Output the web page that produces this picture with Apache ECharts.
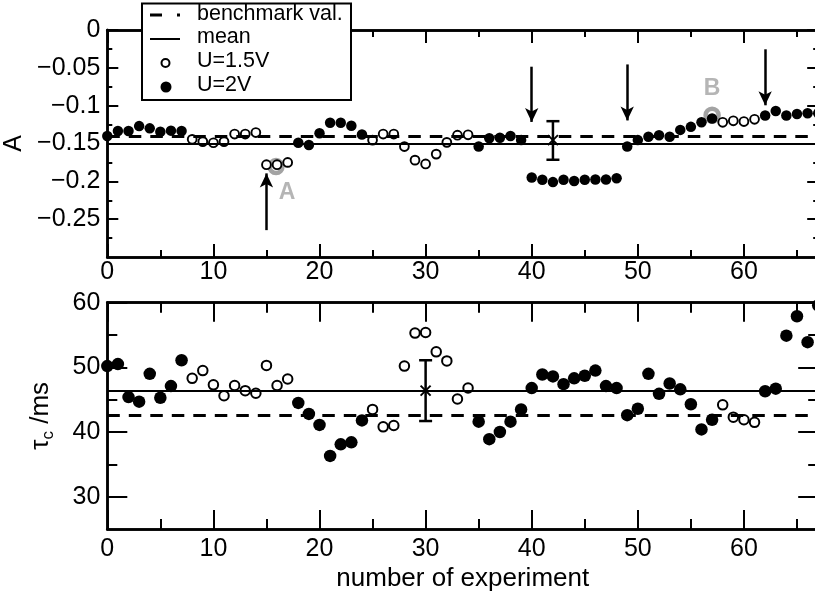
<!DOCTYPE html>
<html>
<head>
<meta charset="utf-8">
<script src="https://cdn.jsdelivr.net/npm/echarts@6/dist/echarts.min.js"></script>
<style>
  html, body { margin: 0; padding: 0; background: #fff; }
  #chart { width: 815px; height: 597px; }
</style>
</head>
<body>
<div id="chart"></div>
<script>
// ---- data ----------------------------------------------------------------
const experiments = [0,1,2,3,4,5,6,7,8,9,10,11,12,13,14,15,16,17,18,19,20,21,22,23,24,25,26,27,28,29,30,31,32,33,34,35,36,37,38,39,40,41,42,43,44,45,46,47,48,49,50,51,52,53,54,55,56,57,58,59,60,61,62,63,64,65,66,67];

// supply voltage of each experiment (V)
const voltage = [2,2,2,2,2,2,2,2,1.5,1.5,1.5,1.5,1.5,1.5,1.5,1.5,1.5,1.5,2,2,2,2,2,2,2,1.5,1.5,1.5,1.5,1.5,1.5,1.5,1.5,1.5,1.5,2,2,2,2,2,2,2,2,2,2,2,2,2,2,2,2,2,2,2,2,2,2,2,1.5,1.5,1.5,1.5,2,2,2,2,2,2];

// amplitude A per experiment
const amplitudeA = [-0.140,-0.1335,-0.1335,-0.127,-0.130,-0.1345,-0.133,-0.1335,-0.1445,-0.1475,-0.149,-0.1475,-0.1375,-0.1375,-0.1355,-0.178,-0.178,-0.175,-0.149,-0.152,-0.1365,-0.1225,-0.1225,-0.1265,-0.138,-0.1455,-0.1375,-0.1375,-0.154,-0.172,-0.177,-0.164,-0.1485,-0.139,-0.1385,-0.154,-0.143,-0.1425,-0.140,-0.1455,-0.195,-0.198,-0.201,-0.198,-0.1995,-0.198,-0.1975,-0.1975,-0.196,-0.154,-0.1455,-0.141,-0.139,-0.141,-0.132,-0.128,-0.122,-0.117,-0.122,-0.120,-0.121,-0.118,-0.113,-0.107,-0.113,-0.111,-0.110,-0.110];

// time constant tau_c per experiment (ms)
const tauC = [50.2,50.5,45.4,44.7,49.0,45.3,47.1,51.1,48.3,49.5,47.3,45.6,47.2,46.4,46.0,50.3,47.2,48.2,44.5,42.8,41.1,36.3,38.1,38.4,41.8,43.5,40.8,41.0,50.2,55.3,55.4,52.4,51.0,45.1,46.8,41.6,38.9,40.0,41.6,43.5,46.8,48.9,48.6,47.4,48.3,48.7,49.5,47.1,46.8,42.6,43.6,49.0,45.9,47.5,46.6,44.3,40.4,41.9,44.2,42.3,41.9,41.5,46.3,46.7,54.9,57.9,53.9,59.6];

// reference levels
const meanA = -0.1455, benchmarkA = -0.1355;
const meanTau = 46.4, benchmarkTau = 42.6;

// spread of the mean: [experiment, centre, low, high]
const spreadA = [[42, -0.1455, -0.1715, -0.1205]];
const spreadTau = [[30, 46.4, 41.7, 51.1]];

// highlighted runs and their tags
const highlightRuns = [[15.9, -0.1805], [57, -0.1125]];
const highlightTags = [{ name: 'A', value: [16.95, -0.2155] }, { name: 'B', value: [57, -0.078] }];

// arrows: [experiment, tail, tip]
const arrowsA = [[15, -0.2645, -0.1895], [40, -0.0485, -0.1215], [49, -0.0455, -0.1195], [62, -0.0255, -0.0995]];

// axis ticks
const xMajorTicks = [0, 10, 20, 30, 40, 50, 60];
const xMinorTicks = [5, 15, 25, 35, 45, 55, 65];
const aMajorTicks = [0, -0.05, -0.1, -0.15, -0.2, -0.25];
const aMinorTicks = [-0.025, -0.075, -0.125, -0.175, -0.225, -0.275];
const tauMajorTicks = [30, 40, 50, 60];
const tauMinorTicks = [35, 45, 55];

const legendLabels = ['benchmark val.', 'mean', 'U=1.5V', 'U=2V'];

// ---- split by voltage ----------------------------------------------------
const filledA = [], openA = [], filledTau = [], openTau = [];
experiments.forEach((n, i) => {
  if (voltage[i] === 2) { filledA.push([n, amplitudeA[i]]); filledTau.push([n, tauC[i]]); }
  else { openA.push([n, amplitudeA[i]]); openTau.push([n, tauC[i]]); }
});

// ---- helpers --------------------------------------------------------------
const FONT = '"Liberation Sans", Arial, Helvetica, sans-serif';
const X_MIN = 0, X_MAX = 67;
const fmtTick = v => (v < 0 ? '\u2212' + String(-v) : String(v));

function axisCommon(ticks, len, labels, labelMargin) {
  return {
    axisLine: { show: true, onZero: false, lineStyle: { color: '#000', width: 2.5 } },
    axisTick: { show: true, inside: true, length: len, customValues: ticks, lineStyle: { color: '#000', width: 2 } },
    axisLabel: labels ? {
      show: true, customValues: ticks, margin: labelMargin, color: '#000',
      fontSize: 25, fontFamily: FONT, formatter: fmtTick
    } : { show: false },
    splitLine: { show: false },
    minorTick: { show: false },
    minorSplitLine: { show: false }
  };
}

function xAxisDef(grid, pos, ticks, len, labels, margin, extra) {
  return Object.assign({ type: 'value', gridIndex: grid, position: pos, min: X_MIN, max: X_MAX },
    axisCommon(ticks, len, labels, margin), extra || {});
}
function yAxisDef(grid, pos, min, max, ticks, len, labels, margin, extra) {
  return Object.assign({ type: 'value', gridIndex: grid, position: pos, min: min, max: max },
    axisCommon(ticks, len, labels, margin), extra || {});
}

function errorBar(capHalf, crossHalf) {
  return function (params, api) {
    const x = api.value(0);
    const c = api.coord([x, api.value(1)]);
    const lo = api.coord([x, api.value(2)]);
    const hi = api.coord([x, api.value(3)]);
    const st = { stroke: '#000', lineWidth: 2.5, fill: null };
    return {
      type: 'group',
      children: [
        { type: 'line', shape: { x1: lo[0], y1: lo[1], x2: hi[0], y2: hi[1] }, style: st },
        { type: 'line', shape: { x1: lo[0] - capHalf, y1: lo[1], x2: lo[0] + capHalf, y2: lo[1] }, style: st },
        { type: 'line', shape: { x1: hi[0] - capHalf, y1: hi[1], x2: hi[0] + capHalf, y2: hi[1] }, style: st },
        { type: 'line', shape: { x1: c[0] - crossHalf, y1: c[1] - crossHalf, x2: c[0] + crossHalf, y2: c[1] + crossHalf }, style: { stroke: '#000', lineWidth: 2 } },
        { type: 'line', shape: { x1: c[0] - crossHalf, y1: c[1] + crossHalf, x2: c[0] + crossHalf, y2: c[1] - crossHalf }, style: { stroke: '#000', lineWidth: 2 } }
      ]
    };
  };
}

function refLines(mean, bench) {
  return {
    silent: true, symbol: 'none', animation: false,
    label: { show: false },
    data: [
      { yAxis: mean, lineStyle: { color: '#000', width: 2, type: 'solid', opacity: 1 } },
      { yAxis: bench, lineStyle: { color: '#000', width: 3, type: [12.5, 9], opacity: 1 } }
    ]
  };
}

// ---- chart ----------------------------------------------------------------
const chart = echarts.init(document.getElementById('chart'), null, { renderer: 'canvas' });

const legendStyle = { fontSize: 21.5, fontFamily: FONT, fill: '#000', verticalAlign: 'middle' };

const option = {
  animation: false,
  backgroundColor: '#fff',
  textStyle: { fontFamily: FONT },
  grid: [
    { left: 107.3, top: 30, width: 710.9, height: 227, containLabel: false, outerBoundsMode: 'none' },
    { left: 107.3, top: 302.7, width: 710.9, height: 226.3, containLabel: false, outerBoundsMode: 'none' }
  ],
  xAxis: [
    xAxisDef(0, 'bottom', xMajorTicks, 13, true, 3),
    xAxisDef(0, 'bottom', xMinorTicks, 7, false),
    xAxisDef(0, 'top', xMajorTicks, 13, false),
    xAxisDef(0, 'top', xMinorTicks, 7, false),
    xAxisDef(1, 'bottom', xMajorTicks, 19, true, 8, {
      name: 'number of experiment', nameLocation: 'middle', nameGap: 37,
      nameTextStyle: { fontSize: 26, fontFamily: FONT, color: '#000' }
    }),
    xAxisDef(1, 'bottom', xMinorTicks, 10, false),
    xAxisDef(1, 'top', xMajorTicks, 19, false),
    xAxisDef(1, 'top', xMinorTicks, 10, false)
  ],
  yAxis: [
    yAxisDef(0, 'left', -0.3, 0, aMajorTicks, 11, true, 7, {
      name: 'A', nameLocation: 'middle', nameGap: 75, nameRotate: 90,
      nameTextStyle: { fontSize: 25, fontFamily: FONT, color: '#000' }
    }),
    yAxisDef(0, 'left', -0.3, 0, aMinorTicks, 5, false),
    yAxisDef(0, 'right', -0.3, 0, aMajorTicks, 11, false),
    yAxisDef(0, 'right', -0.3, 0, aMinorTicks, 5, false),
    yAxisDef(1, 'left', 25, 60, tauMajorTicks, 20, true, 7, {
      name: '{m|τ}{s|c}{m| /ms}', nameLocation: 'middle', nameGap: 50, nameRotate: 90,
      nameTextStyle: {
        color: '#000', fontFamily: FONT,
        rich: {
          m: { fontSize: 26, fontFamily: FONT, color: '#000', lineHeight: 26 },
          s: { fontSize: 17, fontFamily: FONT, color: '#000', padding: [16, 0, 0, 0] }
        }
      }
    }),
    yAxisDef(1, 'left', 25, 60, tauMinorTicks, 10, false),
    yAxisDef(1, 'right', 25, 60, tauMajorTicks, 20, false),
    yAxisDef(1, 'right', 25, 60, tauMinorTicks, 10, false)
  ],
  series: [
    // ---- amplitude panel ----
    {
      type: 'scatter', xAxisIndex: 0, yAxisIndex: 0, data: [], z: 1,
      markLine: refLines(meanA, benchmarkA)
    },
    {
      type: 'scatter', xAxisIndex: 0, yAxisIndex: 0, data: highlightRuns, z: 2,
      symbol: 'circle', symbolSize: 13,
      itemStyle: { color: 'rgba(0,0,0,0)', borderColor: '#a3a3a3', borderWidth: 4.5, opacity: 1 },
      silent: true
    },
    {
      type: 'scatter', xAxisIndex: 0, yAxisIndex: 0, data: openA, z: 3,
      symbol: 'circle', symbolSize: 8.8,
      itemStyle: { color: '#fff', borderColor: '#000', borderWidth: 1.9, opacity: 1 }
    },
    {
      type: 'scatter', xAxisIndex: 0, yAxisIndex: 0, data: filledA, z: 3,
      symbol: 'circle', symbolSize: 10.5,
      itemStyle: { color: '#000', opacity: 1 }
    },
    {
      type: 'custom', xAxisIndex: 0, yAxisIndex: 0, data: spreadA, z: 4,
      renderItem: errorBar(6.5, 5), encode: { x: 0, y: [1, 2, 3] }
    },
    {
      type: 'scatter', xAxisIndex: 0, yAxisIndex: 0, data: highlightTags, z: 4,
      symbolSize: 0, silent: true,
      label: {
        show: true, position: 'inside', formatter: p => p.name,
        fontSize: 23, fontWeight: 'bold', fontFamily: FONT, color: '#a3a3a3'
      }
    },
    {
      type: 'scatter', xAxisIndex: 0, yAxisIndex: 0, data: [], z: 4,
      markLine: {
        silent: true, animation: false, symbol: ['none', 'arrow'], symbolSize: [10, 14],
        label: { show: false },
        lineStyle: { color: '#000', width: 2.5, type: 'solid', opacity: 1 },
        data: arrowsA.map(a => [{ coord: [a[0], a[1]] }, { coord: [a[0], a[2]] }])
      }
    },
    // ---- time constant panel ----
    {
      type: 'scatter', xAxisIndex: 4, yAxisIndex: 4, data: [], z: 1,
      markLine: refLines(meanTau, benchmarkTau)
    },
    {
      type: 'scatter', xAxisIndex: 4, yAxisIndex: 4, data: openTau, z: 3,
      symbol: 'circle', symbolSize: 9.5,
      itemStyle: { color: '#fff', borderColor: '#000', borderWidth: 2, opacity: 1 }
    },
    {
      type: 'scatter', xAxisIndex: 4, yAxisIndex: 4, data: filledTau, z: 3,
      symbol: 'circle', symbolSize: 12.5,
      itemStyle: { color: '#000', opacity: 1 }
    },
    {
      type: 'custom', xAxisIndex: 4, yAxisIndex: 4, data: spreadTau, z: 4,
      renderItem: errorBar(6.5, 5), encode: { x: 0, y: [1, 2, 3] }
    }
  ],
  graphic: [
    { type: 'rect', zlevel: 1, z: 100, silent: true, shape: { x: 142, y: 3.5, width: 209, height: 96.5 },
      style: { fill: '#fff', stroke: '#000', lineWidth: 2 } },
    { type: 'line', zlevel: 1, z: 101, silent: true, shape: { x1: 150, y1: 15, x2: 180, y2: 15 },
      style: { stroke: '#000', lineWidth: 3, lineDash: [12, 15] } },
    { type: 'line', zlevel: 1, z: 101, silent: true, shape: { x1: 150, y1: 39, x2: 180, y2: 39 },
      style: { stroke: '#000', lineWidth: 2 } },
    { type: 'circle', zlevel: 1, z: 101, silent: true, shape: { cx: 165.5, cy: 63, r: 4 },
      style: { fill: '#fff', stroke: '#000', lineWidth: 2 } },
    { type: 'circle', zlevel: 1, z: 101, silent: true, shape: { cx: 166, cy: 87, r: 5.5 },
      style: { fill: '#000' } },
    { type: 'text', zlevel: 1, z: 101, silent: true, x: 197, y: 14, style: Object.assign({ text: legendLabels[0] }, legendStyle) },
    { type: 'text', zlevel: 1, z: 101, silent: true, x: 197, y: 37.5, style: Object.assign({ text: legendLabels[1] }, legendStyle) },
    { type: 'text', zlevel: 1, z: 101, silent: true, x: 197, y: 61, style: Object.assign({ text: legendLabels[2] }, legendStyle) },
    { type: 'text', zlevel: 1, z: 101, silent: true, x: 197, y: 85, style: Object.assign({ text: legendLabels[3] }, legendStyle) }
  ]
};

chart.setOption(option);
</script>
</body>
</html>
